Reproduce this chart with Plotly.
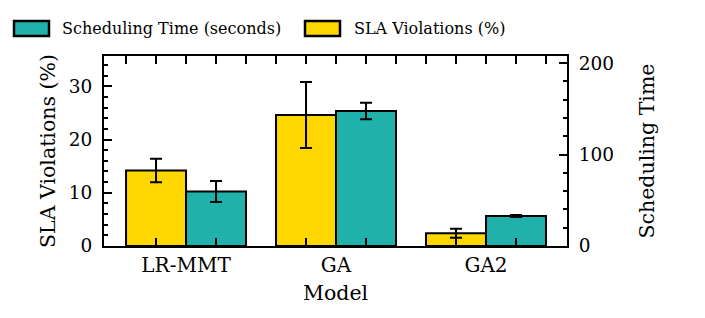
import plotly.graph_objects as go

models = ["LR-MMT", "GA", "GA2"]
sla_values = [14.2, 24.6, 2.4]
sla_errors = [2.2, 6.2, 0.85]
time_values = [59.5, 147.5, 32.8]
time_errors = [11.5, 9.0, 1.0]

YELLOW = "#FFD700"
TEAL = "#20B2AA"
FONT = "DejaVu Serif"
FS_LEG = 16
FS_TITLE = 20.5
FS_YTICK = 18.5
FS_XTICK = 20

x = list(range(len(models)))

# page has an 8px body margin; compensate so the plot lands where the reference is
OFF = 8
W, H = 705 - OFF, 318 - OFF
L, T, R = 104 - OFF, 56 - OFF, 138
B = H - T - 190
PW = W - L - R
PH = H - T - B

fig = go.Figure()
fig.add_trace(go.Bar(
    x=x, y=sla_values, width=0.4, offset=-0.4,
    marker=dict(color=YELLOW, line=dict(color="black", width=2)),
    error_y=dict(type="data", array=sla_errors, color="black", thickness=2, width=6),
    name="SLA Violations (%)", yaxis="y", showlegend=False))
fig.add_trace(go.Bar(
    x=x, y=time_values, width=0.4, offset=0.0,
    marker=dict(color=TEAL, line=dict(color="black", width=2)),
    error_y=dict(type="data", array=time_errors, color="black", thickness=2, width=6),
    name="Scheduling Time (seconds)", yaxis="y2", showlegend=False))

axis_common = dict(showline=True, linecolor="black", linewidth=2, ticks="inside",
                   tickcolor="black", tickwidth=1.5, showgrid=False, zeroline=False)

fig.update_layout(
    width=W, height=H,
    margin=dict(l=L, r=R, t=T, b=B, autoexpand=False),
    plot_bgcolor="white", paper_bgcolor="white",
    barmode="overlay",
    font=dict(family=FONT, size=FS_LEG, color="black"),
    xaxis=dict(range=[-0.547, 2.54], tickvals=x, ticktext=models, ticklen=8,
               mirror="allticks", ticklabelstandoff=0,
               tickfont=dict(family=FONT, size=FS_XTICK, color="black"),
               minor=dict(dtick=0.2, tick0=0, ticks="inside", ticklen=4, tickcolor="black"),
               title=dict(text="Model", font=dict(family=FONT, size=FS_TITLE), standoff=10),
               **axis_common),
    yaxis=dict(range=[0, 35.7], dtick=10, ticklen=8, ticklabelstandoff=6,
               tickfont=dict(family=FONT, size=FS_YTICK, color="black"),
               minor=dict(dtick=2, ticks="inside", ticklen=4, tickcolor="black"),
               title=dict(text="SLA Violations (%)", font=dict(family=FONT, size=FS_TITLE), standoff=8),
               **axis_common),
    yaxis2=dict(range=[0, 207.7], dtick=100, ticklen=8, overlaying="y", side="right",
                ticklabelstandoff=6,
                tickfont=dict(family=FONT, size=FS_YTICK, color="black"),
                minor=dict(dtick=20, ticks="inside", ticklen=4, tickcolor="black"),
                title=dict(text="Scheduling Time", font=dict(family=FONT, size=FS_TITLE), standoff=27),
                **axis_common),
)

def px_x(px):
    return (px - OFF - L) / PW

def px_y(py):
    return (H - B - (py - OFF)) / PH

legend_items = [("Scheduling Time (seconds)", TEAL, 14, 60), ("SLA Violations (%)", YELLOW, 305, 352)]
for label, color, px0, tx in legend_items:
    fig.add_shape(type="rect", xref="paper", yref="paper",
                  x0=px_x(px0), x1=px_x(px0 + 35),
                  y0=px_y(36), y1=px_y(21),
                  fillcolor=color, line=dict(color="black", width=2.5))
    fig.add_annotation(text=label, xref="paper", yref="paper",
                       x=px_x(tx), y=px_y(28.5),
                       xanchor="left", yanchor="middle", showarrow=False,
                       font=dict(family=FONT, size=FS_LEG, color="black"))

fig.write_html("out.html")
